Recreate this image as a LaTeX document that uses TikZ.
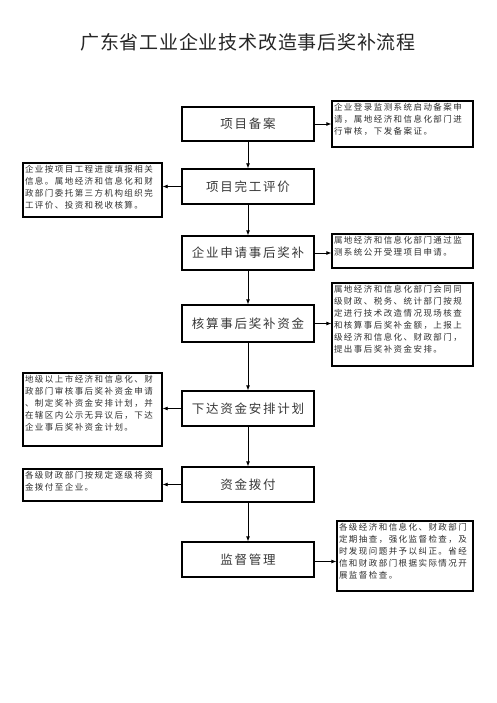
\documentclass[tikz,border=0pt]{standalone}
\usepackage{fontspec}
\setmainfont{Noto Sans CJK SC}
\newfontfamily\titlefont[LetterSpace=4]{Noto Sans CJK SC}
\newfontfamily\mainfont[LetterSpace=14]{Noto Sans CJK SC}
\newfontfamily\smallfont[LetterSpace=17]{Noto Sans CJK SC}
\usetikzlibrary{arrows.meta}
\tikzset{
  mainbox/.style={draw, line width=1.3pt, minimum width=132pt, inner sep=0pt,
    text=black!78, font=\mainfont\fontsize{12.5}{14}\selectfont},
  sidebox/.style={draw, line width=1.3pt, inner sep=0pt},
  sidetext/.style={anchor=north west, inner sep=0pt, align=left, text=black!82,
    font=\smallfont\fontsize{8.5}{12}\selectfont},
  flow/.style={line width=0.8pt, -{Latex[length=5pt,width=4pt]}}
}
\begin{document}
\begin{tikzpicture}[x=1pt,y=-1pt]
\useasboundingbox[fill=white] (0,0) rectangle (497,703);
% title
\node[font=\titlefont\fontsize{19}{22}\selectfont, inner sep=0pt, text=black!85] (title) at (248,42) {广东省工业企业技术改造事后奖补流程};
% main boxes
\node[mainbox, minimum height=34pt] (m1) at (248,124) {项目备案};
\node[mainbox, minimum height=35pt] (m2) at (248,186.5) {项目完工评价};
\node[mainbox, minimum height=34pt] (m3) at (248,253) {企业申请事后奖补};
\node[mainbox, minimum height=37pt] (m4) at (248,323.5) {核算事后奖补资金};
\node[mainbox, minimum height=35pt] (m5) at (248,408.5) {下达资金安排计划};
\node[mainbox, minimum height=35pt] (m6) at (248,484.5) {资金拨付};
\node[mainbox, minimum height=35pt] (m7) at (248,559.5) {监督管理};
% side boxes
\node[sidebox, minimum width=141pt, minimum height=46pt] (r1) at (402.5,124) {};
\node[sidebox, minimum width=139pt, minimum height=54pt] (l2) at (92.5,190) {};
\node[sidebox, minimum width=141pt, minimum height=34pt] (r3) at (402.5,251) {};
\node[sidebox, minimum width=141pt, minimum height=83pt] (r4) at (402.5,324.5) {};
\node[sidebox, minimum width=139pt, minimum height=73pt] (l5) at (92.5,409.5) {};
\node[sidebox, minimum width=139pt, minimum height=32pt] (l6) at (92.5,485) {};
\node[sidebox, minimum width=136pt, minimum height=70pt] (r7) at (405,556) {};
% side texts
\node[sidetext] (t1) at ([shift={(2.5,3)}]r1.north west) {企业登录监测系统启动备案申\\请，属地经济和信息化部门进\\行审核，下发备案证。};
\node[sidetext] (t2) at ([shift={(2.5,3)}]l2.north west) {企业按项目工程进度填报相关\\信息。属地经济和信息化和财\\政部门委托第三方机构组织完\\工评价、投资和税收核算。};
\node[sidetext] (t3) at ([shift={(2.5,3)}]r3.north west) {属地经济和信息化部门通过监\\测系统公开受理项目申请。};
\node[sidetext] (t4) at ([shift={(2.5,3)}]r4.north west) {属地经济和信息化部门会同同\\级财政、税务、统计部门按规\\定进行技术改造情况现场核查\\和核算事后奖补金额，上报上\\级经济和信息化、财政部门，\\提出事后奖补资金安排。};
\node[sidetext] (t5) at ([shift={(2.5,3)}]l5.north west) {地级以上市经济和信息化、财\\政部门审核事后奖补资金申请\\、制定奖补资金安排计划，并\\在辖区内公示无异议后，下达\\企业事后奖补资金计划。};
\node[sidetext] (t6) at ([shift={(2.5,3)}]l6.north west) {各级财政部门按规定逐级将资\\金拨付至企业。};
\node[sidetext] (t7) at ([shift={(2.5,3)}]r7.north west) {各级经济和信息化、财政部门\\定期抽查，强化监督检查，及\\时发现问题并予以纠正。省经\\信和财政部门根据实际情况开\\展监督检查。};
% vertical flow
\draw[flow] (m1) -- (m2);
\draw[flow] (m2) -- (m3);
\draw[flow] (m3) -- (m4);
\draw[flow] (m4) -- (m5);
\draw[flow] (m5) -- (m6);
\draw[flow] (m6) -- (m7);
% side arrows
\draw[flow] (m1.east) -- (m1.east -| r1.west);
\draw[flow] (m2.west) -- (m2.west -| l2.east);
\draw[flow] (m3.east) -- (m3.east -| r3.west);
\draw[flow] (m4.east) -- (m4.east -| r4.west);
\draw[flow] (m5.west) -- (m5.west -| l5.east);
\draw[flow] (m6.west) -- (m6.west -| l6.east);
\draw[flow] ([yshift=-2pt]m7.east) -- ([yshift=-2pt]m7.east -| r7.west);
\end{tikzpicture}
\end{document}
